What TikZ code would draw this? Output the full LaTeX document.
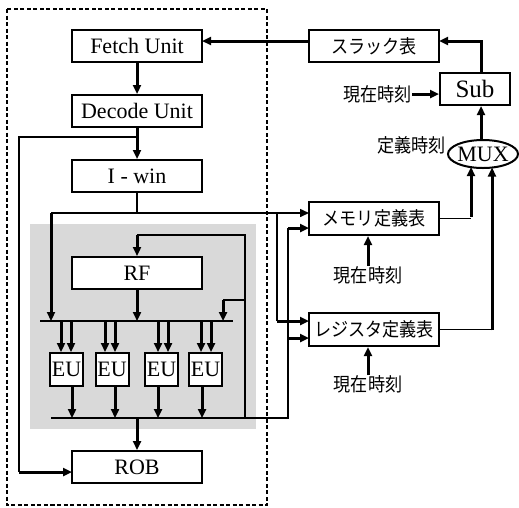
\documentclass[tikz,border=0pt]{standalone}
\usepackage{fontspec}
\setmainfont{Liberation Serif}
\newfontfamily\cjk{Noto Sans CJK JP}[FakeStretch=0.9]
\usetikzlibrary{arrows.meta,shapes.geometric,calc}
\begin{document}
\begin{tikzpicture}[x=1pt,y=-1pt,
  box/.style={draw,line width=2pt,fill=white,inner sep=0pt,font=\fontsize{22}{24}\selectfont},
  jbox/.style={draw,line width=2pt,fill=white,inner sep=0pt,font=\cjk\fontsize{19}{20}\selectfont},
  jlab/.style={inner sep=0pt,font=\cjk\fontsize{19}{20}\selectfont},
  eubox/.style={box,minimum width=33pt,minimum height=33pt,font=\fontsize{22}{24}\selectfont},
  wide/.style={box,minimum width=130pt,minimum height=32pt},
  thin/.style={line width=1.5pt},
  thk/.style={line width=3pt},
  arr/.style={-{Triangle[length=9pt,width=8pt]}},
]
\useasboundingbox (0,0) rectangle (519,507);
% dashed frame and gray area
\draw[line width=2.5pt,dash pattern=on 4pt off 2.5pt] (7,9) rectangle (267,505);
\fill[gray!30] (30,224) rectangle (256,429);
% left column
\node[wide] (fetch) at (137,46) {Fetch Unit};
\node[wide] (decode) at (137,111) {Decode Unit};
\node[wide] (iwin) at (137,176) {I - win};
\node[wide] (rf) at (137,273) {RF};
\node[wide] (rob) at (137,467) {ROB};
\node[eubox] (eu1) at (66.5,369.5) {EU};
\node[eubox] (eu2) at (112,369.5) {EU};
\node[eubox] (eu3) at (161.5,369.5) {EU};
\node[eubox] (eu4) at (205.5,369.5) {EU};
% right column
\node[jbox,minimum width=130pt,minimum height=32pt] (slack) at (374,46) {スラック表};
\node[box,minimum width=70pt,minimum height=32pt,font=\fontsize{25}{26}\selectfont] (sub) at (475,89) {Sub};
\node[draw,ellipse,line width=2pt,inner xsep=-3pt,inner ysep=0pt,minimum width=70pt,minimum height=28pt,font=\fontsize{22}{24}\selectfont] (mux) at (483,154) {MUX};
\node[jbox,minimum width=130pt,minimum height=33pt] (mem) at (374,218.5) {メモリ定義表};
\node[jbox,minimum width=130pt,minimum height=33pt] (reg) at (374,329.5) {レジスタ定義表};
\node[jlab,anchor=east] (now1) at (412,94) {現在時刻};
\node[jlab,anchor=east] (defn) at (446,145) {定義時刻};
\node[jlab] (now2) at (368,275) {現在時刻};
\node[jlab] (now3) at (368,384) {現在時刻};
% coordinates
\coordinate (fin) at (202,41);
\coordinate (sin) at (439,41);
\coordinate (sup) at (481,41);
\coordinate (dj) at (137,137);
\coordinate (dl) at (19,137);
\coordinate (dlb) at (19,472);
\coordinate (robin) at (72,472);
\coordinate (ij) at (137,213);
\coordinate (il) at (51,213);
\coordinate (ilb) at (51,321);
\coordinate (ib) at (277,213);
\coordinate (ibb) at (277,321);
\coordinate (memin1) at (309,213);
\coordinate (memin2) at (309,228);
\coordinate (regin1) at (309,321);
\coordinate (regin2) at (309,338);
\coordinate (bu1) at (40,321);
\coordinate (bu2) at (233,321);
\coordinate (bb1) at (51,418);
\coordinate (bbr) at (288,418);
\coordinate (bbt) at (288,228);
\coordinate (bbm) at (288,338);
\coordinate (fb) at (245,418);
\coordinate (fbt) at (245,235);
\coordinate (fbl) at (137,235);
\coordinate (fbm) at (245,300);
\coordinate (fbm2) at (223,300);
\coordinate (fbm3) at (223,321);
\coordinate (rfb) at (137,321);
\coordinate (robt) at (137,418);
\coordinate (muxl) at (471,167);
\coordinate (muxr) at (492,167.5);
\coordinate (meml) at (471,218.5);
\coordinate (regr) at (492,329.5);
\coordinate (muxt) at (481,140);
% top loop
\draw[thk,arr] (slack.west |- fin) -- (fin);
\draw[thk,arr] (sub.north -| sup) -- (sup) -- (sin);
\draw[thk,arr] (now1.east) -- (sub.west |- now1.east);
\draw[thk,arr] (muxt) -- (sub.south -| sup);
\draw[thin] (mem.east) -- (meml);
\draw[thk,arr] ([yshift=1.5pt]meml) -- (muxl);
\draw[thin] (reg.east) -- (regr);
\draw[thk,arr] ([yshift=-0.75pt]regr) -- (muxr);
\draw[thk,arr] (now2.north) -- (now2.north |- mem.south);
\draw[thk,arr] (now3.north) -- (now3.north |- reg.south);
% left column flow
\draw[thk,arr] (fetch) -- (decode);
\draw[thk,arr] (decode) -- (iwin);
\draw[thin] (dj) -- (dl) -- (dlb);
\draw[thk,arr] (dlb) -- (robin);
\draw[thin] (iwin.south) -- (ij);
\draw[thin] (il) -- (memin1 -| ib);
\draw[thin,arr] (memin1 -| ib) -- (memin1);
\draw[thk,arr] (il) -- (ilb);
\draw[thin] (ib) -- (ibb);
\draw[thk,arr] (ibb) -- (regin1);
% buses
\draw[thin] (bu1) -- (bu2);
\draw[thin] (bb1) -- (bbr) -- (bbt);
\draw[thk,arr] (bbt) -- (memin2);
\draw[thk,arr] (bbm) -- (regin2);
% feedback
\draw[thin] (fb) -- (fbt) -- (fbl);
\draw[thk,arr] (fbl) -- (rf.north);
\draw[thin] (fbm) -- (fbm2);
\draw[thk,arr] (fbm2) -- (fbm3);
\draw[thk,arr] (rf.south) -- (rfb);
\draw[thk,arr] (robt) -- (rob.north);
% EU inputs and outputs
\foreach \e/\a/\b in {eu1/61/71, eu2/105/115, eu3/158/168, eu4/201/211}{
  \draw[thk,arr] (\a,321) -- (\e.north -| \a,0);
  \draw[thk,arr] (\b,321) -- (\e.north -| \b,0);
}
\foreach \e/\c in {eu1/72, eu2/115, eu3/158, eu4/202}{
  \draw[thk,arr] (\e.south -| \c,0) -- (\c,418);
}
\end{tikzpicture}
\end{document}
